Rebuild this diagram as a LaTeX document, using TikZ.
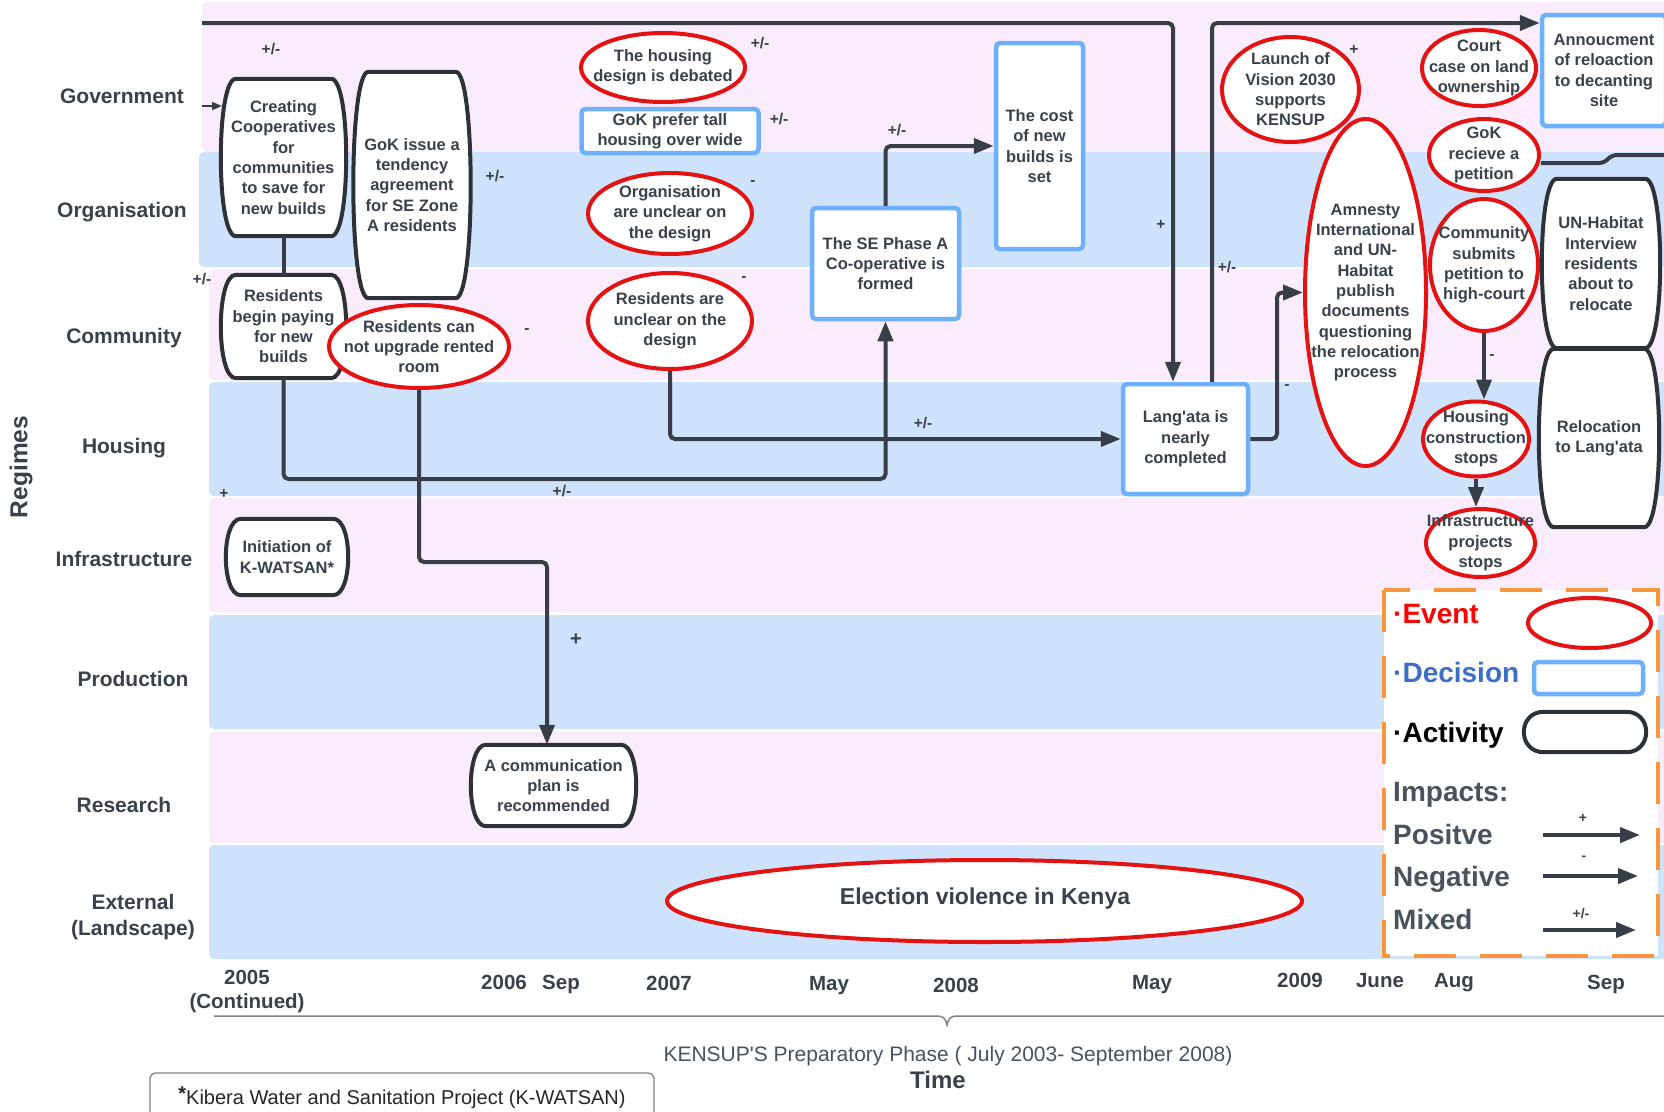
\documentclass[tikz,border=0pt]{standalone}
\usepackage{fontspec}
\setmainfont{Liberation Sans}
\usetikzlibrary{arrows.meta,shapes.geometric,calc}
\definecolor{txtc}{RGB}{58,65,74}
\definecolor{lnc}{RGB}{55,62,71}
\definecolor{pinkc}{RGB}{251,236,253}
\definecolor{bluec}{RGB}{207,226,252}
\definecolor{evred}{RGB}{228,18,18}
\definecolor{decblue}{RGB}{110,176,250}
\definecolor{actc}{RGB}{45,50,56}
\definecolor{orgc}{RGB}{247,150,60}
\definecolor{legblue}{RGB}{61,110,199}
\definecolor{leggray}{RGB}{74,82,94}
\definecolor{bracec}{RGB}{125,131,140}
\pgfdeclarelayer{lanes}
\pgfdeclarelayer{shapes}
\pgfsetlayers{lanes,shapes,main}
\newcommand\nfont{\fontsize{16.5}{20.3}\selectfont\bfseries}
\newcommand\ql{\textquotesingle}
\tikzset{
  lanelbl/.style={font=\fontsize{21}{25}\selectfont\bfseries,text=txtc,align=center,inner sep=0pt},
  evshape/.style={ellipse,draw=evred,line width=4pt,fill=white,inner sep=0pt},
  decshape/.style={rectangle,draw=decblue,line width=4.5pt,fill=white,rounded corners=4pt,inner sep=0pt},
  actbox/.style={rectangle,draw=none,inner sep=0pt},
  actline/.style={draw=actc,line width=4pt,fill=white},
  txt/.style={font=\nfont,text=txtc,align=center,inner sep=0pt},
  conn/.style={draw=lnc,line width=4pt,rounded corners=5pt},
  arr/.style={conn,-{Triangle[length=20pt,width=15pt]}},
  imp/.style={font=\fontsize{15.5}{18}\selectfont\bfseries,text=txtc,inner sep=0pt},
  tl/.style={font=\fontsize{20.5}{24}\selectfont\bfseries,text=txtc,inner sep=0pt,anchor=base},
  legt/.style={font=\fontsize{28}{32}\selectfont\bfseries,inner sep=0pt,anchor=base west},
}
\newcommand\EV[5]{%
  \begin{pgfonlayer}{shapes}
  \node[evshape,minimum width={#3pt-4pt},minimum height={#4pt-4pt}] (#1) at (#2) {};
  \end{pgfonlayer}
  \node[txt] (#1t) at (#1.center) {#5};}
\newcommand\DEC[5]{%
  \begin{pgfonlayer}{shapes}
  \node[decshape,minimum width={#3pt-4pt},minimum height={#4pt-4pt}] (#1) at (#2) {};
  \end{pgfonlayer}
  \node[txt] (#1t) at (#1.center) {#5};}
\newcommand\ACT[6][15]{%
  \node[actbox,minimum width={#4pt-4pt},minimum height={#5pt-4pt}] (#2) at (#3) {};
  \begin{pgfonlayer}{shapes}
  \path[actline] let \p1=(#2.north west), \p2=(#2.south east) in
    (\x1+#1pt,\y1) -- (\x2-#1pt,\y1) .. controls (\x2+#1pt/3,\y1) and (\x2+#1pt/3,\y2) .. (\x2-#1pt,\y2)
    -- (\x1+#1pt,\y2) .. controls (\x1-#1pt/3,\y2) and (\x1-#1pt/3,\y1) .. cycle;
  \end{pgfonlayer}
  \node[txt] (#2t) at (#2.center) {#6};}
\begin{document}
\begin{tikzpicture}[x=1pt,y=-1pt]
\useasboundingbox (0,0) rectangle (1664,1111);
\clip (0,0) rectangle (1664,1111);

% ---------------- lanes
\begin{pgfonlayer}{lanes}
\fill[white] (0,0) rectangle (1664,1111);
\fill[pinkc,rounded corners=5pt] (202,2) rectangle (1680,152);
\fill[bluec,rounded corners=5pt] (199,152) rectangle (1680,267);
\fill[pinkc,rounded corners=5pt] (209,269) rectangle (1680,380);
\fill[bluec,rounded corners=5pt] (209,382) rectangle (1680,496);
\fill[pinkc,rounded corners=5pt] (209,498) rectangle (1680,612);
\fill[bluec,rounded corners=5pt] (209,615) rectangle (1680,729);
\fill[pinkc,rounded corners=5pt] (209,732) rectangle (1680,843);
\fill[bluec,rounded corners=5pt] (209,845) rectangle (1680,959);
\end{pgfonlayer}

% ---------------- lane labels
\node[lanelbl] (lgov) at (122,96) {Government};
\node[lanelbl] (lorg) at (122,212) {Organisation};
\node[lanelbl] (lcom) at (124,338) {Community};
\node[lanelbl] (lhou) at (124,448) {Housing};
\node[lanelbl] (linf) at (124,559) {Infrastructure};
\node[lanelbl] (lpro) at (133,679) {Production};
\node[lanelbl] (lres) at (124,805) {Research};
\node[lanelbl,font=\fontsize{21}{26}\selectfont\bfseries] (lext) at (133,917) {External\\(Landscape)};
\node[font=\fontsize{24.5}{28}\selectfont\bfseries,text=txtc,rotate=90,inner sep=0pt] (lreg) at (21,467) {Regimes};

% ---------------- shapes
\ACT{a1}{283.5,157.5}{129}{161}{Creating\\Cooperatives\\for\\communities\\to save for\\new builds}
\ACT{a2}{412,185}{121}{230}{GoK issue a\\tendency\\agreement\\for SE Zone\\A residents}
\ACT{a3}{283.5,326.5}{129}{107}{Residents\\begin paying\\for new\\builds}
\EV{e1}{419,346.5}{184}{87}{Residents can\\not upgrade rented\\room}
\ACT{a4}{287,557}{126}{80}{Initiation of\\K-WATSAN*}
\ACT{a5}{553.5,785.5}{169}{85}{A communication\\plan is\\recommended}
\EV{e2}{663,67.5}{168}{73}{The housing\\design is debated}
\DEC{d1}{670,131}{181}{48}{GoK prefer tall\\housing over wide}
\EV{e3}{670,213.5}{168}{85}{Organisation\\are unclear on\\the design}
\EV{e4}{670,321}{168}{100}{Residents are\\unclear on the\\design}
\DEC{d2}{885.5,263.5}{151}{115}{The SE Phase A\\Co-operative is\\formed}
\DEC{d3}{1039.5,146}{91}{210}{The cost\\of new\\builds is\\set}
\DEC{d4}{1185.5,439}{129}{114}{Lang\ql ata is\\nearly\\completed}
\EV{e5}{1290.5,89.5}{141}{109}{Launch of\\Vision 2030\\supports\\KENSUP}
\EV{e6}{1365.5,292.5}{125}{351}{Amnesty\\International\\and UN-\\Habitat\\publish\\documents\\questioning\\the relocation\\process}
\EV{e7}{1479,68}{118}{80}{Court\\case on land\\ownership}
\EV{e8}{1484,155}{114}{76}{GoK\\recieve a\\petition}
\EV{e9}{1484,265}{112}{136}{Community\\submits\\petition to\\high-court}
\EV{e10}{1476,439}{110}{79}{Housing\\construction\\stops}
\EV{e11}{1480.5,543}{113}{72}{Infrastructure\\projects\\stops}
\ACT{a6}{1601,263.5}{122}{173}{UN-Habitat\\Interview\\residents\\about to\\relocate}
\ACT{a7}{1599,438}{124}{182}{Relocation\\to Lang\ql ata}
\DEC{d5}{1604,70.5}{128}{115}{Annoucment\\of reloaction\\to decanting\\site}
\begin{pgfonlayer}{shapes}
\node[evshape,minimum width=635pt,minimum height=82pt] (e12) at (984.5,901) {};
\end{pgfonlayer}
\node[txt,font=\fontsize{23}{27}\selectfont\bfseries] (e12t) at (985,899) {Election violence in Kenya};

% ---------------- connectors
\coordinate (c1s) at (202,23);
\coordinate (lx1) at (1173,0);
\coordinate (lx2) at (1212,0);
\coordinate (hy) at (0,479);
\coordinate (k1) at (547,562);
\coordinate (k2) at (1277,0);
\coordinate (c11a) at (1604,163);
\coordinate (c11b) at (1612,155);
\coordinate (c11e) at (1680,155);
\coordinate (c12s) at (202,106);
\coordinate (c12e) at (222,106);

\draw[arr] (c1s) -| (lx1 |- d4.north);
\draw[arr] (lx2 |- d4.north) |- (d5.west |- c1s);
\draw[conn] (a1.south) -- (a3.north);
\draw[arr] (a3.south) |- (hy -| d2.south) -- (d2.south);
\draw[arr] (e1.south) |- (k1) -- (k1 |- a5.north);
\draw[arr] (e4.south) |- (d4.west);
\draw[arr] (d2.north) |- (d3.west);
\draw[arr] (d4.east) -| (k2 |- e6.west) -- (e6.west);
\draw[arr] (e9.south) -- (e9.south |- e10.north);
\draw[arr] (e10.south) -- (e10.south |- e11.north);
\draw[conn] ([yshift=-8pt]e8.east) -- (c11a) -- (c11b) -- (c11e);
\draw[draw=lnc,line width=1.6pt,-{Triangle[length=10pt,width=8pt]}] (c12s) -- (c12e);

% ---------------- impact labels
\node[imp] (i1) at (271,49) {+/-};
\node[imp] (i2) at (495,176) {+/-};
\node[imp] (i3) at (202,279) {+/-};
\node[imp] (i4) at (527,331) {-};
\node[imp] (i5) at (224,494) {+};
\node[imp] (i6) at (562,491) {+/-};
\node[imp,font=\fontsize{20}{24}\selectfont\bfseries] (i7) at (576,640) {+};
\node[imp] (i8) at (760,43) {+/-};
\node[imp] (i9) at (779,119) {+/-};
\node[imp] (i10) at (753,183) {-};
\node[imp] (i11) at (744,279) {-};
\node[imp] (i12) at (897,130) {+/-};
\node[imp] (i13) at (923,423) {+/-};
\node[imp] (i14) at (1161,225) {+};
\node[imp] (i15) at (1227,267) {+/-};
\node[imp] (i16) at (1354,50) {+};
\node[imp] (i17) at (1287,387) {-};
\node[imp] (i18) at (1492,357) {-};

% ---------------- legend
\begin{pgfonlayer}{shapes}
\draw[orgc,line width=4pt,dash pattern=on 42pt off 24pt,fill=white] (1384,590) rectangle (1658,956);
\node[evshape,minimum width=123pt,minimum height=50pt] (lev) at (1589.5,623) {};
\node[decshape,minimum width=109pt,minimum height=32pt] (ldec) at (1588.5,678) {};
\end{pgfonlayer}
\ACT[20]{lact}{1585,732}{126}{44}{}
\node[legt,text=red] (tev) at (1393,623) {·Event};
\node[legt,text=legblue] (tdec) at (1393,682) {·Decision};
\node[legt,text=black] (tact) at (1393,742) {·Activity};
\node[legt,text=leggray] (timp) at (1393,801) {Impacts:};
\node[legt,text=leggray] (tpos) at (1393,844) {Positve};
\node[legt,text=leggray] (tneg) at (1393,886) {Negative};
\node[legt,text=leggray] (tmix) at (1393,929) {Mixed};
\coordinate (lp1) at (1543,835); \coordinate (lp2) at (1640,835);
\coordinate (ln1) at (1543,876); \coordinate (ln2) at (1638,876);
\coordinate (lm1) at (1543,930); \coordinate (lm2) at (1636,930);
\draw[arr] (lp1) -- (lp2);
\draw[arr] (ln1) -- (ln2);
\draw[arr] (lm1) -- (lm2);
\node[imp,font=\fontsize{14}{16}\selectfont\bfseries] (lpl) at (1583,818) {+};
\node[imp,font=\fontsize{14}{16}\selectfont\bfseries] (lnl) at (1584,858) {-};
\node[imp,font=\fontsize{14}{16}\selectfont\bfseries] (lml) at (1581,914) {+/-};

% ---------------- timeline
\node[tl] (y05) at (247,984) {2005};
\node[tl] (y05b) at (247,1008) {(Continued)};
\node[tl] (y06) at (504,989) {2006};
\node[tl] (m06) at (561,989) {Sep};
\node[tl] (y07) at (669,990) {2007};
\node[tl] (m07) at (829,990) {May};
\node[tl] (y08) at (956,992) {2008};
\node[tl] (m08) at (1152,989) {May};
\node[tl] (y09) at (1300,987) {2009};
\node[tl] (m09a) at (1380,987) {June};
\node[tl] (m09b) at (1454,987) {Aug};
\node[tl] (m09c) at (1606,989) {Sep};

\draw[bracec,line width=1.5pt] (214,1016) -- (938,1016) .. controls (943,1016) and (946,1019) .. (947,1025)
  .. controls (948,1019) and (951,1016) .. (956,1016) -- (1680,1016);
\node[font=\fontsize{21}{25}\selectfont,text=leggray,inner sep=0pt] (phase) at (948,1056) {KENSUP\ql S Preparatory Phase ( July 2003- September 2008)};
\node[font=\fontsize{24}{28}\selectfont\bfseries,text=txtc,inner sep=0pt] (time) at (938,1080) {Time};

\draw[bracec,line width=1.3pt,rounded corners=6pt] (150,1073) rectangle (654,1130);
\node[font=\fontsize{20}{24}\selectfont,text=black!85,inner sep=0pt] (fn) at (402,1098) {\raisebox{4pt}{\bfseries *}Kibera Water and Sanitation Project (K-WATSAN)};
\end{tikzpicture}
\end{document}
